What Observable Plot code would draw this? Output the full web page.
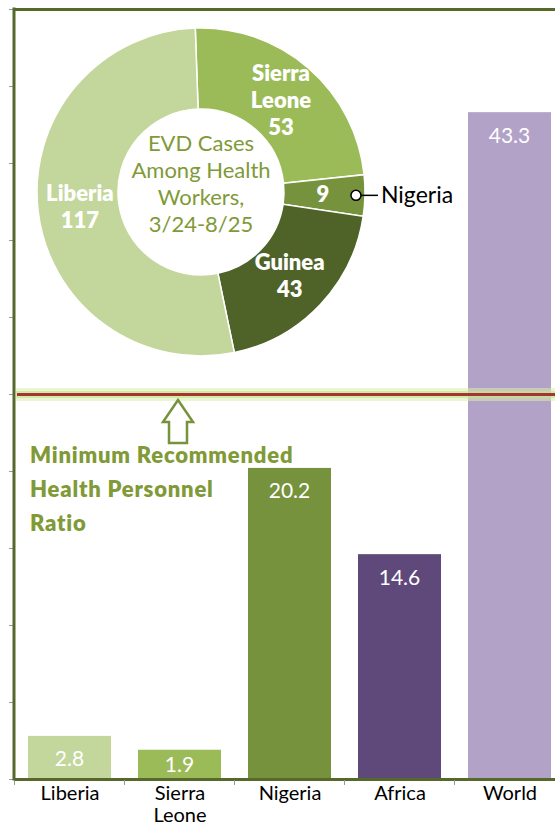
<!DOCTYPE html>
<html><head><meta charset="utf-8">
<script src="https://cdn.jsdelivr.net/npm/d3@7"></script>
<script src="https://cdn.jsdelivr.net/npm/@observablehq/plot@0.6"></script>
<style>
html,body{margin:0;padding:0;background:#fff;overflow:hidden;}
#chart{width:555px;height:827px;overflow:hidden;}
</style></head><body><div id="chart"></div>
<script>
// ---- data ----
const categories = ["Liberia", "Sierra Leone", "Nigeria", "Africa", "World"];
const ratios = [2.8, 1.9, 20.2, 14.6, 43.3];
const barColors = ["#c3d69b", "#9bbb59", "#76923c", "#5f497a", "#b2a2c7"];
const yTicks = [0, 5, 10, 15, 20, 25, 30, 35, 40, 45, 50];
const minimumRatio = 25;
const minimumLabel = ["Minimum Recommended", "Health Personnel", "Ratio"];

const donutCountries = ["Sierra Leone", "Nigeria", "Guinea", "Liberia"];
const donutCases = [53, 9, 43, 117];
const donutColors = ["#9bbb59", "#76923c", "#4f6228", "#c3d69b"];
const donutTitle = ["EVD Cases", "Among Health", "Workers,", "3/24-8/25"];
const calloutCountry = "Nigeria";

// ---- tables built from arrays ----
const bars = categories.map((c, i) => ({category: c, value: ratios[i]}));
const donut = donutCountries.map((c, i) => ({country: c, cases: donutCases[i]}));

// ---- layout / style ----
const W = 555, H = 827;
const M = {top: 9, right: 0, bottom: 48, left: 14};
const frameColor = "#55692b";
const olive = "#7f9a37";
const donutLayout = {dx: 187, cy: 192, outer: 164, inner: 83, start: -0.035, labelR: 122};

function donutMark(index, scales, values, dims) {
  const g = d3.create("svg:g");
  const cx = dims.marginLeft + donutLayout.dx, cy = donutLayout.cy;
  const root = g.append("g").attr("transform", `translate(${cx},${cy})`);
  const pie = d3.pie().sort(null).value(d => d.cases)
    .startAngle(donutLayout.start).endAngle(donutLayout.start + 2 * Math.PI);
  const arcs = pie(donut);
  const arc = d3.arc().innerRadius(donutLayout.inner).outerRadius(donutLayout.outer);
  const color = d3.scaleOrdinal(donutCountries, donutColors);
  root.selectAll("path").data(arcs).join("path")
    .attr("d", arc).attr("fill", d => color(d.data.country))
    .attr("stroke", "white").attr("stroke-width", 1.5);
  const labelArc = d3.arc().innerRadius(donutLayout.labelR).outerRadius(donutLayout.labelR);
  for (const a of arcs) {
    const [lx, ly] = labelArc.centroid(a);
    const lines = a.data.country === calloutCountry
      ? [String(a.data.cases)]
      : [...a.data.country.split(" "), String(a.data.cases)];
    const t = root.append("text").attr("text-anchor", "middle")
      .attr("fill", "white").attr("font-weight", 800).attr("font-size", 22)
      .attr("font-family", "Lato, sans-serif");
    lines.forEach((s, i) => {
      t.append("tspan").attr("x", lx)
        .attr("y", ly + (i - (lines.length - 1) / 2) * 27)
        .attr("dy", "0.35em").text(s);
    });
    if (a.data.country === calloutCountry) {
      const mid = (a.startAngle + a.endAngle) / 2;
      const px = r => Math.sin(mid) * r, py = r => -Math.cos(mid) * r;
      const r0 = donutLayout.outer - 9;
      root.append("line").attr("x1", px(r0) + 5).attr("y1", py(r0))
        .attr("x2", px(r0) + 22).attr("y2", py(r0))
        .attr("stroke", "black").attr("stroke-width", 1.5);
      root.append("circle").attr("cx", px(r0)).attr("cy", py(r0)).attr("r", 5)
        .attr("fill", "white").attr("stroke", "black").attr("stroke-width", 1.5);
      root.append("text").attr("x", px(r0) + 25).attr("y", py(r0)).attr("dy", "0.35em")
        .attr("text-anchor", "start")
        .attr("font-size", 23).attr("font-family", "Lato, sans-serif")
        .attr("fill", "black").text(a.data.country);
    }
  }
  const ct = root.append("text").attr("text-anchor", "middle").attr("fill", olive)
    .attr("font-size", 22).attr("font-family", "Lato, sans-serif");
  donutTitle.forEach((s, i) => {
    ct.append("tspan").attr("x", 0)
      .attr("y", -8 + (i - (donutTitle.length - 1) / 2) * 27)
      .attr("dy", "0.35em").text(s);
  });
  return g.node();
}

function frameMark(index, scales, values, dims) {
  const g = d3.create("svg:g");
  const x = scales.x, y = scales.y;
  const step = x(categories[1]) - x(categories[0]);
  const bw = x.bandwidth ? x.bandwidth() : step * 0.75;
  const x0 = x(categories[0]) - (step - bw) / 2;
  for (let i = 0; i <= categories.length; i++) {
    g.append("line").attr("x1", x0 + i * step).attr("x2", x0 + i * step)
      .attr("y1", y(0) + 1).attr("y2", y(0) + 6)
      .attr("stroke", "#999").attr("stroke-width", 1);
  }
  g.append("line").attr("x1", dims.marginLeft).attr("x2", dims.marginLeft)
    .attr("y1", y(yTicks[yTicks.length - 1]) - 1.5).attr("y2", y(0) + 1.5)
    .attr("stroke", frameColor).attr("stroke-width", 3);
  return g.node();
}

function barLabelMark(index, scales, values, dims) {
  const g = d3.create("svg:g");
  const x = scales.x, y = scales.y;
  const bw = x.bandwidth ? x.bandwidth() : 82;
  for (const b of bars) {
    g.append("text").attr("x", x(b.category) + bw / 2)
      .attr("y", Math.min(y(b.value) + 23, y(0) - 14)).attr("dy", "0.35em")
      .attr("text-anchor", "middle").attr("fill", "white")
      .attr("font-size", 21).attr("font-family", "Lato, sans-serif")
      .text(b.value.toFixed(1));
  }
  return g.node();
}

function arrowMark(index, scales, values, dims) {
  const y = scales.y;
  const ax = dims.marginLeft + 164, tip = y(minimumRatio) + 6;
  const hw = 15, sw = 9, head = 22, len = 43;
  const p = d3.path();
  p.moveTo(ax, tip);
  p.lineTo(ax + hw, tip + head);
  p.lineTo(ax + sw, tip + head);
  p.lineTo(ax + sw, tip + len);
  p.lineTo(ax - sw, tip + len);
  p.lineTo(ax - sw, tip + head);
  p.lineTo(ax - hw, tip + head);
  p.closePath();
  const g = d3.create("svg:g");
  g.append("path").attr("d", p.toString()).attr("fill", "white")
    .attr("stroke", "#76923c").attr("stroke-width", 2.5).attr("stroke-linejoin", "miter");
  const t = g.append("text").attr("fill", olive).attr("font-weight", 800)
    .attr("text-anchor", "start").attr("letter-spacing", 0.8)
    .attr("font-size", 22).attr("font-family", "Lato, sans-serif");
  minimumLabel.forEach((s, i) => {
    t.append("tspan").attr("x", dims.marginLeft + 16)
      .attr("y", y(minimumRatio) + 61 + i * 34).attr("dy", "0.35em").text(s);
  });
  return g.node();
}

const chart = Plot.plot({
  width: W, height: H,
  marginTop: M.top, marginRight: M.right, marginBottom: M.bottom, marginLeft: M.left,
  style: {fontFamily: "Lato, sans-serif", background: "white", overflow: "hidden"},
  x: {domain: categories, range: [M.left, M.left + 550], paddingInner: 0.25, paddingOuter: 0.125, label: null},
  y: {domain: [0, 50], label: null},
  color: {domain: categories, range: barColors},
  marks: [
    donutMark,
    Plot.barY(bars, {x: "category", y: "value", fill: "category"}),
    Plot.ruleY([minimumRatio], {stroke: "#d8edac", strokeWidth: 13, strokeOpacity: 0.55, insetLeft: 2}),
    Plot.ruleY([minimumRatio], {stroke: "#c6e290", strokeWidth: 7, strokeOpacity: 0.6, insetLeft: 2}),
    Plot.ruleY([minimumRatio], {stroke: "#a3372f", strokeWidth: 3, insetLeft: 3}),
    Plot.ruleY([0], {stroke: frameColor, strokeWidth: 3}),
    Plot.ruleY([50], {stroke: frameColor, strokeWidth: 3}),
    Plot.axisY({ticks: yTicks, tickSize: 5, tickFormat: () => "", label: null, stroke: "#999"}),
    Plot.axisX({tickSize: 0, tickPadding: 5, fontSize: 20, lineHeight: 1.1, fill: "black",
      label: null, tickFormat: d => d.replace(" ", "\n")}),
    frameMark,
    barLabelMark,
    arrowMark
  ]
});
document.getElementById("chart").appendChild(chart);
</script>
</body></html>
